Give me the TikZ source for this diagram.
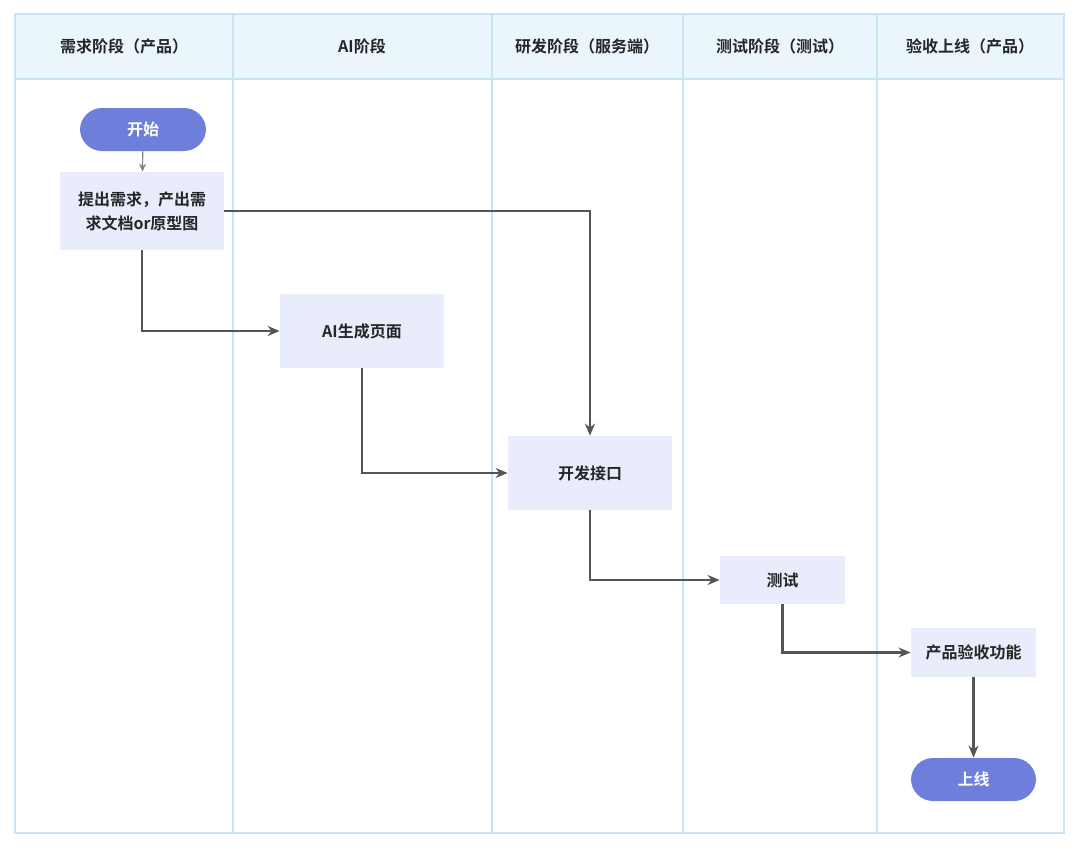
\documentclass[tikz,border=0pt]{standalone}
\usepackage{fontspec}
\newfontfamily\cjk{Noto Sans CJK SC}[BoldFont={* Bold}]
\usetikzlibrary{arrows.meta}
\definecolor{lane}{HTML}{C9E3F2}
\definecolor{head}{HTML}{EAF5FC}
\definecolor{boxf}{HTML}{E8ECFB}
\definecolor{pill}{HTML}{6D7FDB}
\definecolor{arr}{HTML}{555555}
\begin{document}
\begin{tikzpicture}[x=0.5pt,y=-0.5pt,
  box/.style={fill=boxf,draw=none,inner sep=0,align=center,font=\cjk\fontsize{8}{12}\selectfont\bfseries,text=black!85},
  pl/.style={fill=pill,draw=none,rounded corners=11pt,inner sep=0,font=\cjk\fontsize{8}{10}\selectfont\bfseries,text=white},
  hd/.style={font=\cjk\fontsize{8}{10}\selectfont\bfseries,text=black!85},
  ar/.style={draw=arr,line width=1.3pt,-{Stealth[length=6pt,width=5pt]}}]
\useasboundingbox (0,0) rectangle (1080,851);
\fill[white] (0,0) rectangle (1080,851);
\fill[head] (15,14) rectangle (1064,79);
\draw[lane,line width=0.8pt] (15,14) rectangle (1064,833);
\draw[lane,line width=0.8pt] (15,79) -- (1064,79);
\foreach \x in {233,492,683,877} \draw[lane,line width=0.8pt] (\x,14) -- (\x,833);
\node[hd] (h1) at (124,46) {需求阶段（产品）};
\node[hd] (h2) at (362,46) {AI阶段};
\node[hd] (h3) at (587,46) {研发阶段（服务端）};
\node[hd] (h4) at (780,46) {测试阶段（测试）};
\node[hd] (h5) at (970,46) {验收上线（产品）};
\node[pl,minimum width=63pt,minimum height=21.5pt] (start) at (143,129.5) {开始};
\node[box,minimum width=82pt,minimum height=39pt] (req) at (142,211) {提出需求，产出需\\求文档or原型图};
\node[box,minimum width=82pt,minimum height=37pt] (ai) at (362,331) {AI生成页面};
\node[box,minimum width=82pt,minimum height=37pt] (dev) at (590,473) {开发接口};
\node[box,minimum width=62.5pt,minimum height=24pt] (test) at (782.5,580) {测试};
\node[box,minimum width=62.5pt,minimum height=24.5pt] (acc) at (973.5,652.5) {产品验收功能};
\node[pl,minimum width=62.5pt,minimum height=21.5pt] (end) at (973.5,779.5) {上线};
\draw[draw=gray,line width=0.6pt,-{Stealth[length=4pt,width=3.5pt]}] (start) -- (req);
\draw[ar] (req.south) |- (ai.west);
\draw[ar] (req.east) -| (dev.north);
\draw[ar] (ai.south) |- (dev.west);
\draw[ar] (dev.south) |- (test.west);
\draw[ar] (test.south) |- (acc.west);
\draw[ar] (acc) -- (end);
\end{tikzpicture}
\end{document}
